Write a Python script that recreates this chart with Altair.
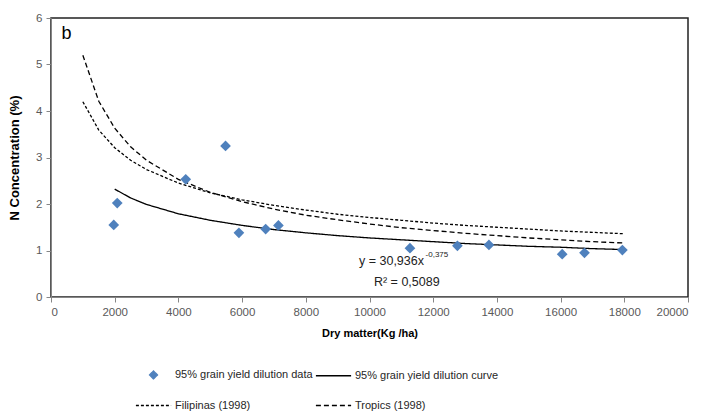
import altair as alt
import pandas as pd

# ---- data ----
series_names = ["95% grain yield dilution data", "95% grain yield dilution curve",
                "Filipinas (1998)", "Tropics (1998)"]

obs_dm = [1970, 2080, 4230, 5480, 5900, 6740, 7140, 11270, 12760, 13750, 16050, 16750, 17940]
obs_n = [1.55, 2.02, 2.53, 3.25, 1.38, 1.46, 1.54, 1.05, 1.10, 1.12, 0.92, 0.95, 1.01]

curve_dm = [2000, 2500, 3000, 4000, 5000, 6000, 7000, 8000, 9000, 10000, 11000,
            12000, 13000, 14000, 15000, 16000, 17000, 18000]
curve_n = [2.32, 2.13, 1.99, 1.79, 1.65, 1.54, 1.45, 1.38, 1.32, 1.27, 1.23,
           1.19, 1.15, 1.12, 1.09, 1.07, 1.04, 1.02]

ref_dm = [1000, 1500, 2000, 2500, 3000, 4000, 5000, 6000, 7000, 8000, 9000, 10000,
          11000, 12000, 13000, 14000, 15000, 16000, 17000, 18000]
filipinas_n = [4.20, 3.59, 3.21, 2.94, 2.74, 2.45, 2.24, 2.09, 1.97, 1.87, 1.78, 1.71,
               1.65, 1.59, 1.54, 1.50, 1.46, 1.42, 1.39, 1.36]
tropics_n = [5.20, 4.21, 3.63, 3.23, 2.94, 2.53, 2.25, 2.05, 1.89, 1.76, 1.66, 1.57,
             1.49, 1.43, 1.37, 1.32, 1.27, 1.23, 1.19, 1.16]

x_ticks = list(range(0, 20001, 2000))
y_ticks = [0, 1, 2, 3, 4, 5, 6]

eq_text = ["y = 30,936x", "R² = 0,5089"]
eq_x = [9670, 10140]
eq_y = [0.77, 0.33]
sup_text = ["-0,375"]
sup_x = [11760]
sup_y = [0.90]

panel_label = ["b"]

# ---- tables ----
pts = pd.DataFrame({"dm": obs_dm, "n": obs_n, "series": series_names[0]})
lines = pd.concat([
    pd.DataFrame({"dm": curve_dm, "n": curve_n, "series": series_names[1]}),
    pd.DataFrame({"dm": ref_dm, "n": filipinas_n, "series": series_names[2]}),
    pd.DataFrame({"dm": ref_dm, "n": tropics_n, "series": series_names[3]}),
], ignore_index=True)

SANS = "Liberation Sans"
BLUE = "#4F81BD"

xscale = alt.Scale(domain=[0, 20000], nice=False, zero=True)
yscale = alt.Scale(domain=[0, 6], nice=False)

xenc = alt.X("dm:Q", scale=xscale,
             axis=alt.Axis(values=x_ticks, format="d", title="Dry matter(Kg /ha)",
                           titlePadding=10, titleFontSize=11))
yenc = alt.Y("n:Q", scale=yscale,
             axis=alt.Axis(values=y_ticks, format="d", title="N Concentration (%)",
                           titlePadding=14, titleFontSize=13))

color_scale = alt.Scale(domain=series_names, range=[BLUE, "black", "black", "black"])
shape_scale = alt.Scale(domain=series_names,
                        range=["diamond", "M-4.4,0H4.4", "M-4.4,0H4.4", "M-4.4,0H4.4"])
dash_scale = alt.Scale(domain=series_names, range=[[1, 0], [1, 0], [3, 2], [5, 3]])

points = alt.Chart(pts).mark_point(filled=True, size=115, opacity=1).encode(
    x=xenc, y=yenc,
    color=alt.Color("series:N", scale=color_scale, title=None, sort=series_names),
    shape=alt.Shape("series:N", scale=shape_scale, title=None, sort=series_names),
)

curves = alt.Chart(lines).mark_line(strokeWidth=1.3).encode(
    x=xenc, y=yenc,
    color=alt.Color("series:N", scale=color_scale, title=None, sort=series_names),
    strokeDash=alt.StrokeDash("series:N", scale=dash_scale, title=None, sort=series_names),
)

eq_df = pd.DataFrame({"dm": eq_x, "n": eq_y, "t": eq_text})
eq = alt.Chart(eq_df).mark_text(align="left", baseline="middle", font=SANS,
                                fontSize=12.5, color="#222").encode(
    x=alt.X("dm:Q", scale=xscale), y=alt.Y("n:Q", scale=yscale), text="t:N")

sup_df = pd.DataFrame({"dm": sup_x, "n": sup_y, "t": sup_text})
sup = alt.Chart(sup_df).mark_text(align="left", baseline="middle", font=SANS,
                                  fontSize=8, color="#222").encode(
    x=alt.X("dm:Q", scale=xscale), y=alt.Y("n:Q", scale=yscale), text="t:N")

lab_df = pd.DataFrame({"dm": [330], "n": [5.65], "t": panel_label})
lab = alt.Chart(lab_df).mark_text(align="left", baseline="middle", font=SANS,
                                  fontSize=18, color="black").encode(
    x=alt.X("dm:Q", scale=xscale), y=alt.Y("n:Q", scale=yscale), text="t:N")

chart = alt.layer(curves, points, eq, sup, lab).properties(
    width=637, height=279,
    padding={"left": 0, "top": 4, "right": 5, "bottom": 0},
).configure_view(
    stroke="#222222", strokeWidth=1.5
).configure_axis(
    grid=False, labelFont=SANS, labelFontSize=11.5, labelColor="#595959",
    titleFont=SANS, titleFontWeight="bold", titleColor="black",
    domainColor="#868686", tickColor="#868686", tickSize=5, labelPadding=4,
).configure_legend(
    orient="none", legendX=97, legendY=351, columns=2, direction="horizontal",
    labelFont=SANS, labelFontSize=11, labelColor="#262626", symbolSize=64,
    symbolStrokeWidth=1.3, labelOffset=16, columnPadding=0, rowPadding=17,
    labelLimit=400, title=None,
)

chart.save("out.html", embed_options={"renderer": "svg", "actions": False})
